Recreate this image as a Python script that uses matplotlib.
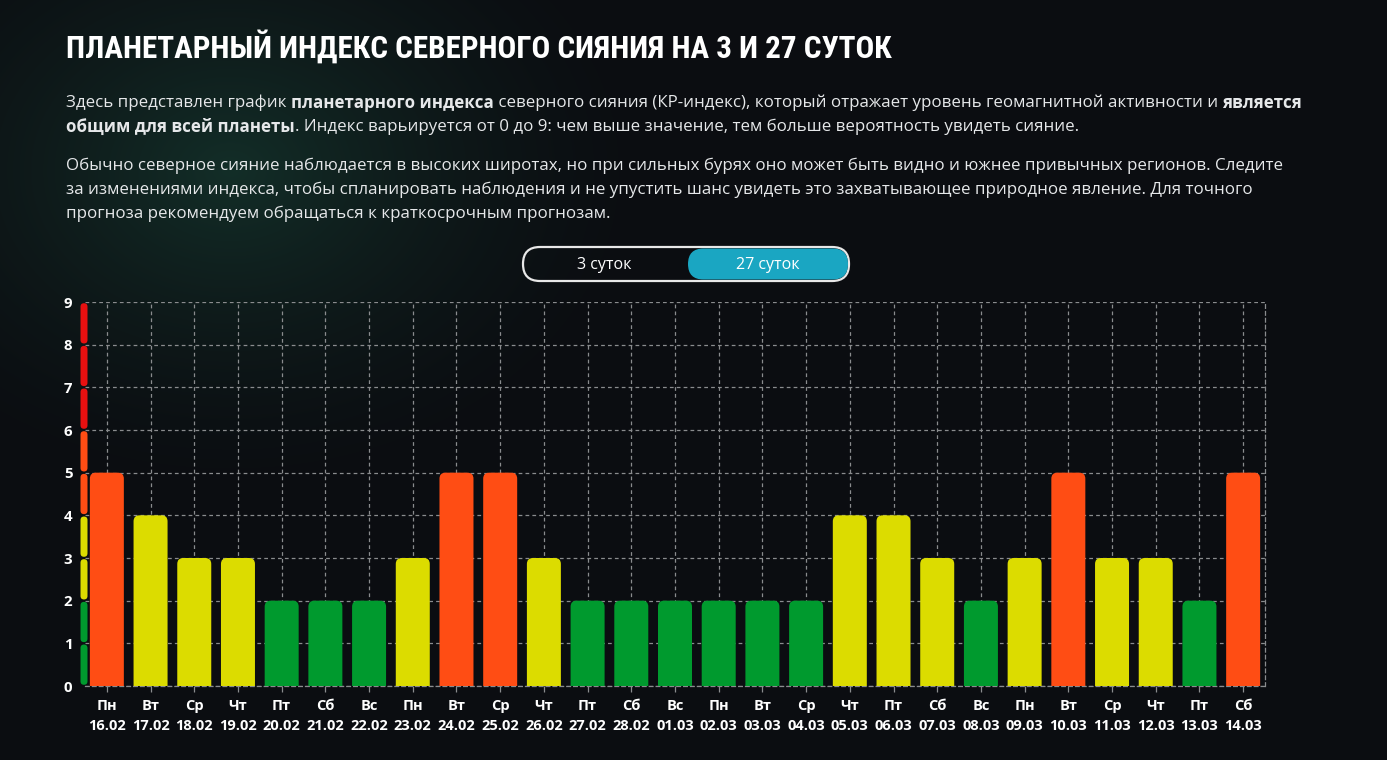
import numpy as np
import matplotlib
matplotlib.use("Agg")
import matplotlib.pyplot as plt
from matplotlib.patches import FancyBboxPatch

# --- data -------------------------------------------------------------
days = ["Пн", "Вт", "Ср", "Чт", "Пт", "Сб", "Вс", "Пн", "Вт", "Ср", "Чт", "Пт", "Сб", "Вс",
        "Пн", "Вт", "Ср", "Чт", "Пт", "Сб", "Вс", "Пн", "Вт", "Ср", "Чт", "Пт", "Сб"]
dates = ["16.02", "17.02", "18.02", "19.02", "20.02", "21.02", "22.02", "23.02", "24.02",
         "25.02", "26.02", "27.02", "28.02", "01.03", "02.03", "03.03", "04.03", "05.03",
         "06.03", "07.03", "08.03", "09.03", "10.03", "11.03", "12.03", "13.03", "14.03"]
kp = [5, 4, 3, 3, 2, 2, 2, 3, 5, 5, 3, 2, 2, 2, 2, 2, 2, 4, 4, 3, 2, 3, 5, 3, 3, 2, 5]
y_ticks = list(range(0, 10))

title = "ПЛАНЕТАРНЫЙ ИНДЕКС СЕВЕРНОГО СИЯНИЯ НА 3 И 27 СУТОК"
para_lines = [
    [("Здесь представлен график ", False), ("планетарного индекса", True),
     (" северного сияния (КР-индекс), который отражает уровень геомагнитной активности и ", False),
     ("является", True)],
    [("общим для всей планеты", True),
     (". Индекс варьируется от 0 до 9: чем выше значение, тем больше вероятность увидеть сияние.", False)],
    [("Обычно северное сияние наблюдается в высоких широтах, но при сильных бурях оно может быть видно и южнее привычных регионов. Следите", False)],
    [("за изменениями индекса, чтобы спланировать наблюдения и не упустить шанс увидеть это захватывающее природное явление. Для точного", False)],
    [("прогноза рекомендуем обращаться к краткосрочным прогнозам.", False)],
]
toggle_labels = ["3 суток", "27 суток"]

# --- style ------------------------------------------------------------
BG = "#0b0d11"
GREEN, YELLOW, ORANGE, RED = "#009a2e", "#dcdc00", "#ff4d14", "#e81010"
FONT = ["Open Sans", "DejaVu Sans"]
plt.rcParams["font.family"] = FONT


def level_color(v):
    if v <= 2:
        return GREEN
    if v <= 4:
        return YELLOW
    if v <= 6:
        return ORANGE
    return RED


W, H = 1387, 760
fig = plt.figure(figsize=(W / 100, H / 100), dpi=100)
fig.patch.set_facecolor(BG)

# background glow
bg_ax = fig.add_axes([0, 0, 1, 1], zorder=-10)
yy, xx = np.mgrid[0:H, 0:W]
d = np.sqrt(((xx - 230) / 430.0) ** 2 + ((yy - 170) / 330.0) ** 2)
glow = np.clip(1 - d, 0, 1) ** 1.5
base = np.array([11, 13, 17]) / 255.0
tint = np.array([19, 46, 40]) / 255.0
img = base + (tint - base) * glow[..., None]
bg_ax.imshow(img, extent=[0, W, H, 0], aspect="auto")
bg_ax.set_xlim(0, W)
bg_ax.set_ylim(H, 0)
bg_ax.axis("off")

# overlay axes in pixel coords for text / toggle
ov = fig.add_axes([0, 0, 1, 1], zorder=5)
ov.set_xlim(0, W)
ov.set_ylim(H, 0)
ov.axis("off")

fig.canvas.draw()
renderer = fig.canvas.get_renderer()

# title, fitted to the reference width
tt = ov.text(66, 47, title, family=["Roboto Condensed", "DejaVu Sans Condensed", "Roboto", "DejaVu Sans"],
             fontweight="bold", fontsize=24, color="white", va="center", ha="left")
tw = tt.get_window_extent(renderer).width
tt.set_fontsize(24 * 829 / tw)

line_y = [103, 127, 166, 190, 214]
for y, runs in zip(line_y, para_lines):
    x = 66
    for txt, bold in runs:
        t = ov.text(x, y, txt, fontsize=12.2, color="#e6e8ea", va="center", ha="left",
                    fontweight="bold" if bold else "normal")
        bb = t.get_window_extent(renderer)
        x += bb.width

# toggle pill
pill = FancyBboxPatch((523, 247), 326, 34, boxstyle="round,pad=0,rounding_size=17",
                      facecolor="none", edgecolor="#e8e8e8", linewidth=1.6)
ov.add_patch(pill)
sel = FancyBboxPatch((688, 248.5), 160, 31, boxstyle="round,pad=0,rounding_size=15.5",
                     facecolor="#1aa6c2", edgecolor="none")
ov.add_patch(sel)
ov.text(604, 265, toggle_labels[0], fontsize=11.5, color="white", ha="center", va="center")
ov.text(768, 265, toggle_labels[1], fontsize=11.5, color="white", ha="center", va="center")

# --- chart ------------------------------------------------------------
ax_l, ax_r, ax_t, ax_b = 85, 1265, 302, 686
ax = fig.add_axes([ax_l / W, 1 - ax_b / H, (ax_r - ax_l) / W, (ax_b - ax_t) / H], zorder=2)
ax.set_facecolor("none")
n = len(kp)
x = np.arange(n)
ax.set_xlim(-0.5, n - 0.5)
ax.set_ylim(0, 9)

px_x = (ax_r - ax_l) / n
px_y = (ax_b - ax_t) / 9
aspect = px_x / px_y
r = 6 / px_x
bw = 34 / px_x

for xi, v in zip(x, kp):
    p = FancyBboxPatch((xi - bw / 2, -0.5), bw, v + 0.5,
                       boxstyle=f"round,pad=0,rounding_size={r}", mutation_aspect=aspect,
                       facecolor=level_color(v), edgecolor="none", zorder=3)
    ax.add_patch(p)

# level strip at left
sw = 7 / px_x
sx = -0.5 - 1 / px_x - sw / 2
gap = 1.2 / px_y
for k in range(9):
    seg = FancyBboxPatch((sx, k + gap), sw, 1 - 2 * gap,
                         boxstyle=f"round,pad=0,rounding_size={sw / 2}", mutation_aspect=aspect,
                         facecolor=level_color(k + 1), edgecolor="none", clip_on=False, zorder=4)
    ax.add_patch(seg)

ax.set_yticks(y_ticks)
ax.set_xticks(x)
ax.set_xticklabels([f"{d}\n{dt}" for d, dt in zip(days, dates)], linespacing=1.55)
ax.grid(True, color="#8a8c8e", linestyle=(0, (3, 2.5)), linewidth=0.9, zorder=1)
for side in ["top", "left"]:
    ax.spines[side].set_visible(False)
for side in ["bottom", "right"]:
    ax.spines[side].set_color("#8a8c8e")
    ax.spines[side].set_linestyle((0, (3, 2.5)))
    ax.spines[side].set_linewidth(0.9)
ax.tick_params(axis="x", colors="#8a8c8e", length=4, width=0.9, pad=5.5,
               labelcolor="white", labelsize=10.5)
ax.tick_params(axis="y", length=0, pad=9, labelcolor="white", labelsize=10.8)
for lab in ax.get_xticklabels() + ax.get_yticklabels():
    lab.set_fontweight("bold")

fig.savefig("out.png", dpi=100, facecolor=BG)
